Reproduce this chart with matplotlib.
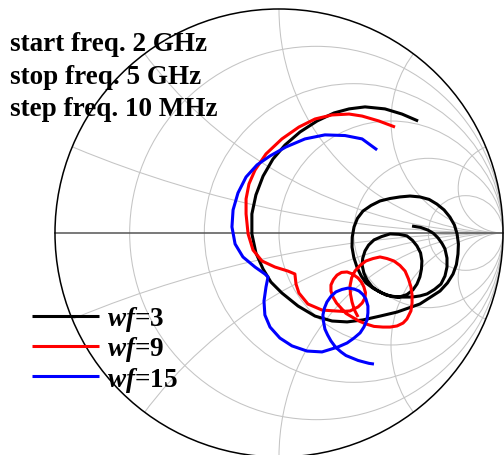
import matplotlib
matplotlib.use("Agg")
import matplotlib.pyplot as plt
from matplotlib.patches import Circle

plt.rcParams["font.family"] = "Liberation Serif"
plt.rcParams["mathtext.fontset"] = "custom"
plt.rcParams["mathtext.rm"] = "Liberation Serif:bold"
plt.rcParams["mathtext.bfit"] = "Liberation Serif:italic:bold"

# S11 (reflection coefficient), 2 GHz -> 5 GHz
wf3_re = [0.621, 0.549, 0.473, 0.384, 0.313, 0.246, 0.170, 0.094, 0.027, -0.027,
          -0.071, -0.103, -0.121, -0.121, -0.103, -0.071, -0.036, 0.013, 0.085, 0.161,
          0.237, 0.304, 0.375, 0.451, 0.527, 0.629, 0.719, 0.752, 0.777, 0.792,
          0.799, 0.801, 0.795, 0.783, 0.763, 0.737, 0.705, 0.670, 0.629, 0.585,
          0.540, 0.496, 0.451, 0.411, 0.375, 0.350, 0.335, 0.327, 0.326, 0.334,
          0.348, 0.366, 0.388, 0.422, 0.460, 0.496, 0.536, 0.571, 0.598, 0.616,
          0.629, 0.636, 0.638, 0.632, 0.616, 0.596, 0.571, 0.536, 0.496, 0.458,
          0.424, 0.400, 0.384, 0.374, 0.371, 0.379, 0.393, 0.415, 0.442, 0.478,
          0.518, 0.594, 0.629, 0.661, 0.694, 0.723, 0.741, 0.750, 0.750, 0.741,
          0.728, 0.710, 0.690, 0.665, 0.632, 0.594]
wf3_im = [0.500, 0.531, 0.554, 0.563, 0.554, 0.536, 0.500, 0.451, 0.393, 0.330,
          0.254, 0.170, 0.085, -0.004, -0.089, -0.161, -0.219, -0.268, -0.326, -0.371,
          -0.393, -0.397, -0.388, -0.371, -0.353, -0.317, -0.259, -0.223, -0.183, -0.141,
          -0.094, -0.049, -0.004, 0.036, 0.071, 0.103, 0.129, 0.150, 0.161, 0.165,
          0.161, 0.154, 0.143, 0.123, 0.098, 0.065, 0.027, -0.018, -0.063, -0.109,
          -0.152, -0.190, -0.223, -0.248, -0.268, -0.281, -0.286, -0.275, -0.254, -0.228,
          -0.196, -0.161, -0.125, -0.089, -0.058, -0.033, -0.013, -0.006, -0.004, -0.016,
          -0.031, -0.054, -0.080, -0.112, -0.143, -0.179, -0.210, -0.239, -0.259, -0.277,
          -0.286, -0.286, -0.281, -0.272, -0.252, -0.228, -0.192, -0.152, -0.112, -0.071,
          -0.047, -0.022, -0.002, 0.013, 0.025, 0.031]

wf9_re = [0.518, 0.446, 0.371, 0.313, 0.237, 0.161, 0.089, 0.013, -0.058, -0.107,
          -0.134, -0.147, -0.147, -0.138, -0.116, -0.076, -0.018, 0.040, 0.071, 0.076,
          0.089, 0.129, 0.192, 0.250, 0.286, 0.317, 0.353, 0.371, 0.384, 0.386,
          0.379, 0.368, 0.353, 0.328, 0.304, 0.279, 0.259, 0.243, 0.232, 0.232,
          0.241, 0.257, 0.277, 0.299, 0.326, 0.357, 0.388, 0.424, 0.464, 0.496,
          0.527, 0.554, 0.571, 0.589, 0.594, 0.594, 0.589, 0.578, 0.563, 0.540,
          0.513, 0.482, 0.451, 0.420, 0.388, 0.362, 0.339, 0.324, 0.317, 0.319,
          0.326, 0.337, 0.353]
wf9_im = [0.473, 0.500, 0.522, 0.531, 0.527, 0.509, 0.473, 0.420, 0.353, 0.281,
          0.219, 0.152, 0.085, -0.004, -0.076, -0.125, -0.152, -0.170, -0.183, -0.228,
          -0.268, -0.317, -0.344, -0.348, -0.350, -0.348, -0.330, -0.313, -0.290, -0.266,
          -0.241, -0.219, -0.201, -0.183, -0.174, -0.176, -0.188, -0.208, -0.232, -0.259,
          -0.286, -0.313, -0.335, -0.359, -0.375, -0.393, -0.406, -0.417, -0.420, -0.420,
          -0.415, -0.402, -0.384, -0.348, -0.313, -0.277, -0.241, -0.205, -0.170, -0.145,
          -0.125, -0.114, -0.107, -0.114, -0.125, -0.145, -0.170, -0.201, -0.237, -0.272,
          -0.308, -0.344, -0.375]

wf15_re = [0.438, 0.371, 0.295, 0.205, 0.116, 0.031, -0.040, -0.098, -0.147, -0.183,
           -0.205, -0.210, -0.196, -0.161, -0.107, -0.063, -0.049, -0.058, -0.067, -0.063,
           -0.040, 0.004, 0.058, 0.125, 0.192, 0.263, 0.304, 0.335, 0.362, 0.379,
           0.393, 0.397, 0.397, 0.388, 0.375, 0.357, 0.335, 0.308, 0.281, 0.254,
           0.232, 0.214, 0.203, 0.196, 0.199, 0.205, 0.217, 0.232, 0.252, 0.277,
           0.299, 0.326, 0.353, 0.379, 0.402, 0.424]
wf15_im = [0.371, 0.420, 0.435, 0.438, 0.420, 0.384, 0.344, 0.304, 0.250, 0.179,
           0.103, 0.027, -0.049, -0.107, -0.152, -0.183, -0.196, -0.241, -0.304, -0.366,
           -0.420, -0.469, -0.504, -0.527, -0.531, -0.509, -0.491, -0.469, -0.446, -0.420,
           -0.388, -0.357, -0.326, -0.295, -0.275, -0.259, -0.250, -0.246, -0.252, -0.263,
           -0.283, -0.308, -0.335, -0.366, -0.397, -0.429, -0.455, -0.482, -0.509, -0.531,
           -0.547, -0.558, -0.569, -0.576, -0.582, -0.585]

series = [(wf3_re, wf3_im, "3", "black"),
          (wf9_re, wf9_im, "9", "red"),
          (wf15_re, wf15_im, "15", "blue")]

r_grid = [0.2, 0.5, 1, 2, 5]
x_grid = [0.2, 0.5, 1, 2, 5]

notes = ["start freq. 2 GHz", "stop freq. 5 GHz", "step freq. 10 MHz"]

fig = plt.figure(figsize=(5.04, 4.56), dpi=100)
ax = fig.add_axes([0, 0, 1, 1])
ax.set_xlim(-1.2455, 1.0045)
ax.set_ylim(-0.9911, 1.0446)
ax.axis("off")

unit = Circle((0, 0), 1, fill=False, ec="black", lw=1.1, zorder=3)
ax.add_patch(unit)

grid_kw = dict(fill=False, ec="#c4c4c4", lw=0.75, zorder=1)
for r in r_grid:
    ax.add_patch(Circle((r / (1 + r), 0), 1 / (1 + r), **grid_kw))
for x in x_grid:
    for sgn in (1, -1):
        arc = Circle((1, sgn / x), 1 / x, **grid_kw)
        ax.add_patch(arc)
        arc.set_clip_path(unit)

ax.plot([-1, 1], [0, 0], color="#555555", lw=1.1, zorder=2)

for re, im, wf, col in series:
    ax.plot(re, im, color=col, lw=2.2, solid_capstyle="butt",
            solid_joinstyle="round", zorder=4, label=r"$\mathbfit{wf}$=" + wf)

ax.legend(loc="upper left", bbox_to_anchor=(32 / 504, 1 - 305 / 456),
          bbox_transform=fig.transFigure, frameon=False, borderpad=0,
          borderaxespad=0, handlelength=2.48, handletextpad=0.3,
          labelspacing=0.05, prop=dict(family="Liberation Serif", weight="bold", size=19.5))

for i, s in enumerate(notes):
    fig.text(10 / 504, 1 - (51 + 32.5 * i) / 456, s, fontsize=19.5,
             fontweight="bold", va="baseline", zorder=5)

fig.savefig("out.png", dpi=100)
